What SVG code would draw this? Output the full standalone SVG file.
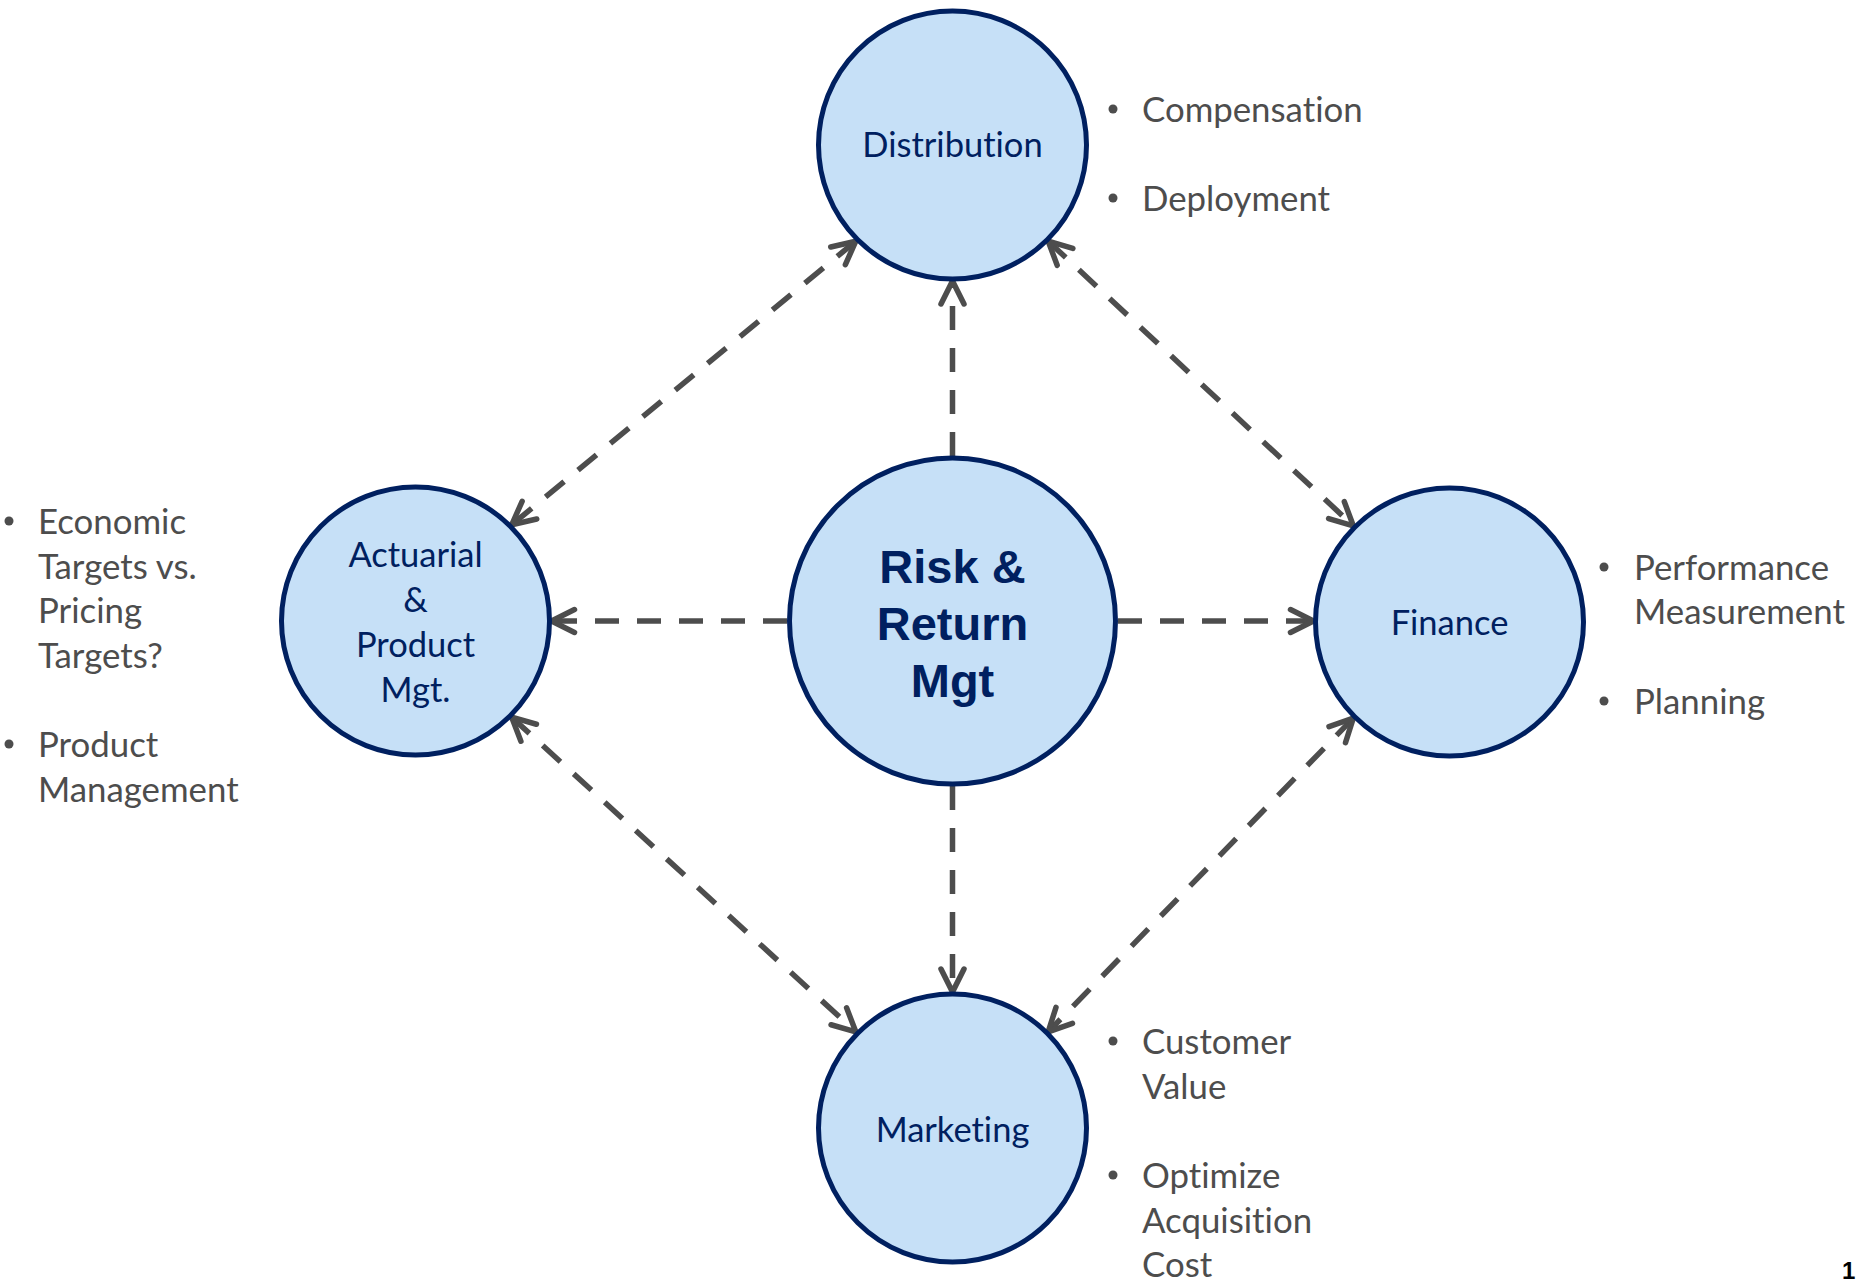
<svg xmlns="http://www.w3.org/2000/svg" width="1864" height="1282" viewBox="0 0 1864 1282">
  <style>
    .node circle { fill: #C6E0F7; stroke: #002060; stroke-width: 5; }
    .label { font-family: Lato, "Liberation Sans", sans-serif; font-size: 34.5px; fill: #002060; text-anchor: middle; font-variant-ligatures: none; }
    .core { font-family: "Liberation Sans", Arial, sans-serif; font-size: 47px; font-weight: bold; fill: #002060; text-anchor: middle; }
    .note { font-family: Lato, "Liberation Sans", sans-serif; font-size: 34.8px; fill: #4D4D4D; font-variant-ligatures: none; }
    .dot { fill: #4D4D4D; }
    .link { fill: none; stroke: #4D4D4D; stroke-width: 5.5; stroke-dasharray: 24 18; }
    .one { marker-end: url(#arrow); }
    .both { marker-start: url(#arrow); marker-end: url(#arrow); }
    .page { font-family: "Liberation Sans", Arial, sans-serif; font-size: 24px; font-weight: bold; fill: #000000; }
  </style>
  <defs>
    <marker id="arrow" viewBox="-30 -16 36 32" refX="0" refY="0" markerWidth="36" markerHeight="32" markerUnits="userSpaceOnUse" orient="auto-start-reverse" overflow="visible">
      <path d="M-23,-11.5 L0,0 L-23,11.5" fill="none" stroke="#4D4D4D" stroke-width="5.5" stroke-linecap="round" stroke-linejoin="round"/>
    </marker>
  </defs>

  <rect width="1864" height="1282" fill="#FFFFFF"/>

  <!-- dashed connectors -->
  <g id="connectors">
    <path class="link one" d="M952.5,456 L952.5,281"/>
    <path class="link one" d="M952.5,786 L952.5,992"/>
    <path class="link one" d="M787,621 L551.5,621"/>
    <path class="link one" d="M1118,621 L1313.5,621"/>
    <path class="link both" d="M855.8,241.2 L511.7,524.8"/>
    <path class="link both" d="M1048.2,241.2 L1353.3,525.8"/>
    <path class="link both" d="M511.7,717.2 L855.8,1031.8"/>
    <path class="link both" d="M1353.3,718.2 L1048.2,1031.8"/>
  </g>

  <g id="distribution" class="node">
    <circle cx="952.5" cy="145" r="134"/>
    <text class="label" x="952.5" y="157">Distribution</text>
  </g>

  <g id="risk-return" class="node">
    <circle cx="952.5" cy="621" r="163"/>
    <text class="core" x="952.5" y="583">Risk &amp;</text>
    <text class="core" x="952.5" y="640">Return</text>
    <text class="core" x="952.5" y="697">Mgt</text>
  </g>

  <g id="actuarial" class="node">
    <circle cx="415.5" cy="621" r="134"/>
    <text class="label" x="415.5" y="567">Actuarial</text>
    <text class="label" x="415.5" y="612">&amp;</text>
    <text class="label" x="415.5" y="657">Product</text>
    <text class="label" x="415.5" y="702">Mgt.</text>
  </g>

  <g id="finance" class="node">
    <circle cx="1449.5" cy="622" r="134"/>
    <text class="label" x="1449.5" y="635">Finance</text>
  </g>

  <g id="marketing" class="node">
    <circle cx="952.5" cy="1128" r="134"/>
    <text class="label" x="952.5" y="1142">Marketing</text>
  </g>

  <!-- bullet notes -->
  <g id="distribution-notes">
    <circle class="dot" cx="1113" cy="109" r="4.5"/>
    <text class="note" x="1142" y="122">Compensation</text>
    <circle class="dot" cx="1113" cy="198" r="4.5"/>
    <text class="note" x="1142" y="211">Deployment</text>
  </g>

  <g id="actuarial-notes">
    <circle class="dot" cx="9" cy="521" r="4.5"/>
    <text class="note" x="38" y="534">Economic</text>
    <text class="note" x="38" y="579">Targets vs.</text>
    <text class="note" x="38" y="623">Pricing</text>
    <text class="note" x="38" y="668">Targets?</text>
    <circle class="dot" cx="9" cy="744" r="4.5"/>
    <text class="note" x="38" y="757">Product</text>
    <text class="note" x="38" y="802">Management</text>
  </g>

  <g id="finance-notes">
    <circle class="dot" cx="1604" cy="567" r="4.5"/>
    <text class="note" x="1634" y="580">Performance</text>
    <text class="note" x="1634" y="624">Measurement</text>
    <circle class="dot" cx="1604" cy="701" r="4.5"/>
    <text class="note" x="1634" y="714">Planning</text>
  </g>

  <g id="marketing-notes">
    <circle class="dot" cx="1113" cy="1041" r="4.5"/>
    <text class="note" x="1142" y="1054">Customer</text>
    <text class="note" x="1142" y="1099">Value</text>
    <circle class="dot" cx="1113" cy="1175" r="4.5"/>
    <text class="note" x="1142" y="1188">Optimize</text>
    <text class="note" x="1142" y="1233">Acquisition</text>
    <text class="note" x="1142" y="1277">Cost</text>
  </g>

  <text class="page" x="1842" y="1279">1</text>
</svg>
